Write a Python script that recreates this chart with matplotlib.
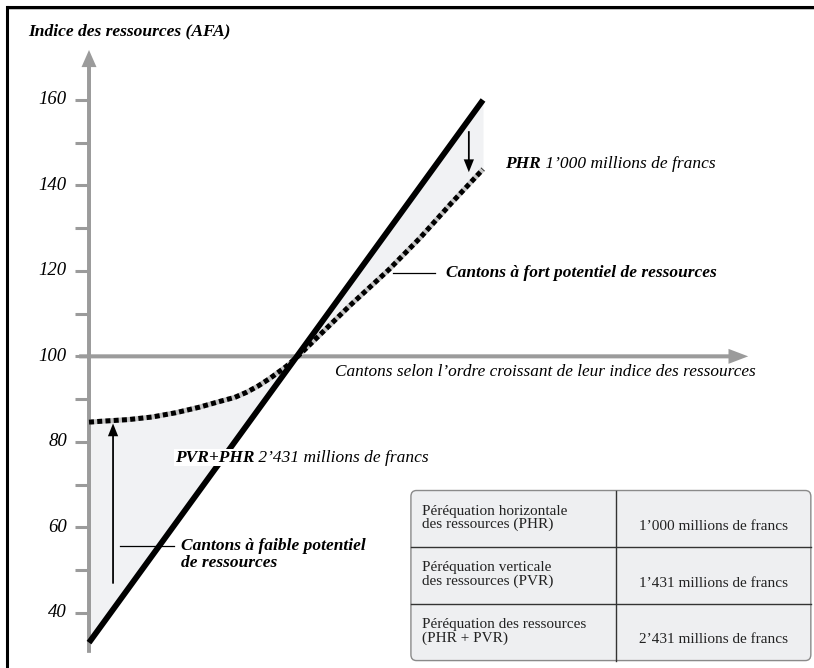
import numpy as np
import matplotlib
matplotlib.use("Agg")
import matplotlib.pyplot as plt
from matplotlib.patches import FancyBboxPatch
from matplotlib.lines import Line2D

plt.rcParams['font.family'] = ['Liberation Serif', 'DejaVu Serif']

# resource index of the cantons, ordered (before equalisation)
line_x = [0, 100]
line_y = [33, 160]

# resource index after equalisation (dotted curve)
curve_x = [0, 3, 10, 16, 22, 28, 33, 37, 40, 43, 46, 50, 53, 60, 66, 76, 84, 92, 100]
curve_y = [84.6, 84.8, 85.2, 85.8, 86.8, 88.1, 89.4, 90.4, 91.6, 93.1, 94.9, 97.6, 100.0,
           106.3, 111.7, 120.2, 127.7, 135.9, 143.8]

tick_values = list(range(40, 161, 10))
tick_labels = [40, 60, 80, 100, 120, 140, 160]

table_labels = ["Péréquation horizontale\ndes ressources (PHR)",
                "Péréquation verticale\ndes ressources (PVR)",
                "Péréquation des ressources\n(PHR + PVR)"]
table_values = ["1’000 millions de francs",
                "1’431 millions de francs",
                "2’431 millions de francs"]

gray = '#9b9b9b'
fs = 12.5

fig = plt.figure(figsize=(8.14, 6.68), dpi=100)
ax = fig.add_axes([0, 0, 1, 1])
ax.set_xlim(-22.59, 184.0)
ax.set_ylim(27.06, 183.4)
ax.axis('off')

# shaded area between the two curves
cx = np.array(curve_x, dtype=float)
ax.fill_between(cx, curve_y, np.interp(cx, line_x, line_y), color='#f1f2f4', lw=0, zorder=1)

# axes (gray arrows)
ax.arrow(0, 30.6, 0, 141.1, width=1.0, head_width=3.8, head_length=4.0,
         length_includes_head=True, color=gray, lw=0, zorder=2)
ax.arrow(-2.5, 100, 169.8, 0, width=0.95, head_width=3.5, head_length=5.0,
         length_includes_head=True, color=gray, lw=0, zorder=2)
for v in tick_values:
    ax.plot([-3.6, 0], [v, v], color=gray, lw=2.2, solid_capstyle='butt', zorder=2)
for v in tick_labels:
    ax.text(-5.6, v, str(v), ha='right', va='center', fontsize=13.5, style='italic')

# curves
ax.plot(curve_x, curve_y, color='#c4c4c4', lw=3.6, solid_capstyle='butt', zorder=3)
ax.plot(curve_x, curve_y, color='black', lw=3.6, ls=(0, (1.0, 0.65)),
        dash_capstyle='butt', zorder=4)
ax.plot(line_x, line_y, color='black', lw=4.2, solid_capstyle='butt', zorder=5)

# black arrows
ax.arrow(96.4, 152.7, 0, -9.6, width=0.45, head_width=2.6, head_length=3.0,
         length_includes_head=True, color='black', lw=0, zorder=6)
ax.arrow(6.1, 46.8, 0, 37.5, width=0.45, head_width=2.6, head_length=3.0,
         length_includes_head=True, color='black', lw=0, zorder=6)

# labels
ax.text(-15.5, 176.1, "Indice des ressources (AFA)", fontsize=12.6, style='italic',
        weight='bold', va='center', ha='left')

t1 = ax.text(105.6, 145.0, "PHR", fontsize=fs, style='italic', weight='bold', va='center')
ax.annotate(" 1’000 millions de francs", xy=(1, 0), xycoords=t1, va='bottom',
            fontsize=fs, style='italic')

ax.plot([77.2, 87.8], [119.6, 119.6], color='black', lw=0.9, zorder=6)
ax.text(90.5, 119.6, "Cantons à fort potentiel de ressources", fontsize=fs,
        style='italic', weight='bold', va='center')

ax.text(62.4, 96.4, "Cantons selon l’ordre croissant de leur indice des ressources",
        fontsize=12.4, style='italic', va='center')

t2 = ax.text(21.8, 76.3, "PVR+PHR", fontsize=fs, style='italic', weight='bold', va='center',
             bbox=dict(facecolor='white', edgecolor='none', pad=0.5), zorder=7)
ax.annotate(" 2’431 millions de francs", xy=(1, 0), xycoords=t2, va='bottom',
            fontsize=fs, style='italic', zorder=7)

ax.plot([7.9, 21.6], [55.7, 55.7], color='black', lw=0.9, zorder=6)
ax.text(23.4, 53.6, "Cantons à faible potentiel\nde ressources", fontsize=fs,
        style='italic', weight='bold', va='center', linespacing=1.1)

# summary table
tx0, tx1, ty0, ty1 = 81.7, 183.2, 28.8, 68.6
xmid = 133.8
ax.add_patch(FancyBboxPatch((tx0, ty0), tx1 - tx0, ty1 - ty0,
                            boxstyle='round,pad=0,rounding_size=1.4',
                            facecolor='#eeeff1', edgecolor='#8a8a8a', lw=1.0, zorder=3))
rows = len(table_labels)
row_h = (ty1 - ty0) / rows
ax.plot([xmid, xmid], [ty0, ty1], color='#333333', lw=1.0, zorder=4)
for i in range(1, rows):
    ax.plot([tx0, tx1], [ty1 - i * row_h] * 2, color='#333333', lw=1.0, zorder=4)
for i, (lab, val) in enumerate(zip(table_labels, table_values)):
    yc = ty1 - (i + 0.5) * row_h
    ax.text(tx0 + 2.8, yc + 0.2, lab, fontsize=11, va='center', ha='left',
            linespacing=1.0, color='#222222', zorder=5)
    ax.text((xmid + tx1) / 2, yc - 1.8, val, fontsize=11, va='center', ha='center',
            color='#222222', zorder=5)

# frame (top and left)
fig.add_artist(Line2D([7.5 / 814, 1], [1 - 9.0 / 668] * 2, color='#bbbbbb', lw=1.2,
                      transform=fig.transFigure))
fig.add_artist(Line2D([7.5 / 814, 1], [1 - 7.3 / 668] * 2, color='black', lw=2.2,
                      transform=fig.transFigure))
fig.add_artist(Line2D([7.3 / 814] * 2, [0, 1 - 6.5 / 668], color='black', lw=2.2,
                      transform=fig.transFigure))

fig.savefig("out.png", dpi=100)
